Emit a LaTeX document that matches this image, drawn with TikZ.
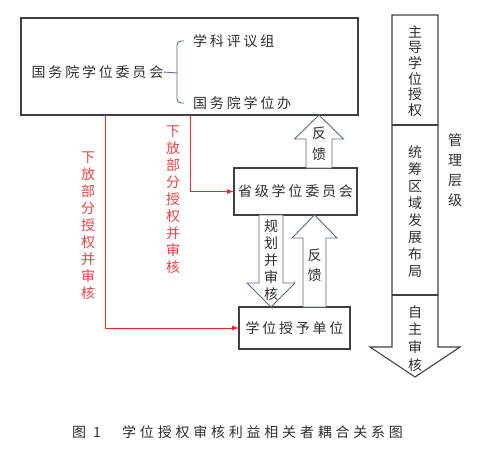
\documentclass[tikz,border=0pt]{standalone}
\usepackage{fontspec}
\setmainfont{Noto Sans CJK SC}
\newfontfamily\cjkspaced[LetterSpace=20]{Noto Sans CJK SC}
\newfontfamily\cjkcaption[LetterSpace=27]{Noto Sans CJK SC}
\usetikzlibrary{calc,arrows.meta}

\definecolor{boxline}{HTML}{404040}
\definecolor{arrline}{HTML}{556A86}
\definecolor{redline}{HTML}{EE2A2A}
\definecolor{redtext}{HTML}{F04040}
\definecolor{txt}{HTML}{2E2E2E}

\tikzset{
    unitbox/.style={draw=boxline, line width=1.1pt, inner sep=0pt, outer sep=0pt},
    htext/.style={font=\cjkspaced\fontsize{14}{17}\selectfont, text=txt, inner sep=0pt},
    vtext/.style={align=center, font=\fontsize{14}{17}\selectfont, text=txt, inner sep=0pt},
    redv/.style={vtext, text=redtext},
    redarrow/.style={draw=redline, line width=0.9pt, -{Latex[length=7pt,width=5pt]}},
    blockarr/.style={draw=arrline, line width=0.9pt, fill=white, line join=miter},
    bracket/.style={draw=arrline, line width=0.9pt}
}

% vertical block arrow: tail, tip, shaft half width, head half width, head length
\newcommand\blockarrow[5]{%
    \coordinate (ba-base) at ($(#2)!#5pt!(#1)$);
    \draw[blockarr] ($(#1)+(-#3,0)$) -- ($(ba-base)+(-#3,0)$) -- ($(ba-base)+(-#4,0)$)
        -- (#2) -- ($(ba-base)+(#4,0)$) -- ($(ba-base)+(#3,0)$) -- ($(#1)+(#3,0)$) -- cycle;}

\begin{document}
\begin{tikzpicture}[x=1pt, y=-1pt]
    \useasboundingbox (0,0) rectangle (494,457);

    % boxes
    \node[unitbox, minimum width=337pt, minimum height=97pt] (gwy) at (189.5,66.5) {};
    \node[unitbox, minimum width=123pt, minimum height=47pt] (prov) at (295.5,191.5) {};
    \node[unitbox, minimum width=111pt, minimum height=42pt] (unit) at (294.5,328) {};

    % texts in boxes
    \node[htext] (council) at (97.5,72) {国务院学位委员会};
    \node[htext, anchor=west] (panel) at (193,41) {学科评议组};
    \node[htext, anchor=west] (office) at (193,103) {国务院学位办};
    \node[htext] (provt) at (prov) {省级学位委员会};
    \node[htext] (unitt) at (unit) {学位授予单位};

    % bracket
    \coordinate (brc) at (177,73);
    \draw[bracket] (council.east) -- (brc);
    \draw[bracket, rounded corners=4pt, shorten <=9pt, shorten >=9pt]
        (panel.west) -| (brc) |- (office.west);

    % red delegation lines
    \coordinate (red1) at (105,0);
    \coordinate (red2) at (190,0);
    \draw[redarrow] (red1 |- gwy.south) |- (unit.west);
    \draw[redarrow] (red2 |- gwy.south) |- (prov.west);
    \node[redv] (down1) at (88,226) {下\\放\\部\\分\\授\\权\\并\\审\\核};
    \node[redv] (down2) at (173,200) {下\\放\\部\\分\\授\\权\\并\\审\\核};

    % block arrows between boxes
    \coordinate (fb1a) at ($(prov.north)+(23.5,0)$);
    \coordinate (fb1b) at (fb1a |- gwy.south);
    \blockarrow{fb1a}{fb1b}{13}{24.5}{24}
    \node[vtext, font=\fontsize{14}{21}\selectfont] (fb1t) at (319,144) {反\\馈};

    \coordinate (plana) at ($(prov.south)+(-24.5,0)$);
    \coordinate (planb) at (plana |- unit.north);
    \blockarrow{plana}{planb}{12}{24}{24}
    \node[vtext] (plant) at (271,260.5) {规\\划\\并\\审\\核};

    \coordinate (fb2a) at ($(unit.north)+(20,0)$);
    \coordinate (fb2b) at (fb2a |- prov.south);
    \blockarrow{fb2a}{fb2b}{11.5}{22.5}{23}
    \node[vtext, font=\fontsize{14}{20}\selectfont] (fb2t) at (314.5,265) {反\\馈};

    % management level column
    \draw[draw=boxline, line width=1.1pt, line join=miter] (392,15) -- (438,15) -- (438,347) -- (460,347)
        -- (415,377) -- (370,347) -- (392,347) -- cycle;
    \draw[draw=boxline, line width=1.1pt] (392,125) -- (438,125);
    \draw[draw=boxline, line width=1.1pt] (392,295) -- (438,295);
    \node[vtext, font=\fontsize{14}{15.6}\selectfont] (lead) at (415,71) {主\\导\\学\\位\\授\\权};
    \node[vtext] (plan) at (415,212) {统\\筹\\区\\域\\发\\展\\布\\局};
    \node[vtext, font=\fontsize{14}{17.7}\selectfont] (self) at (415,338.5) {自\\主\\审\\核};
    \node[vtext, font=\fontsize{14}{20}\selectfont] (level) at (455,170) {管\\理\\层\\级};

    % caption
    \node[font=\fontsize{14}{16}\selectfont, text=txt, inner sep=0pt, anchor=west] (fig) at (72,432)
        {图\hspace{7pt}1};
    \node[font=\cjkcaption\fontsize{14}{16}\selectfont, text=txt, inner sep=0pt, anchor=west] (caption) at (122,432)
        {学位授权审核利益相关者耦合关系图};
\end{tikzpicture}
\end{document}
